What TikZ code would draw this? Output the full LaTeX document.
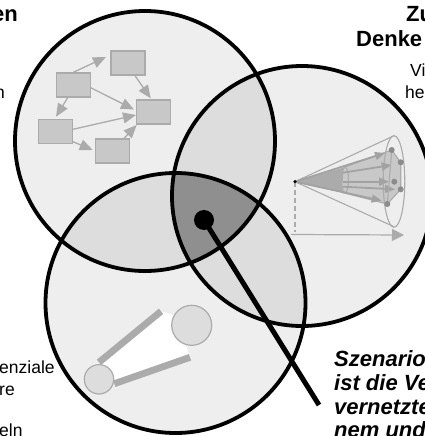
\documentclass[tikz,border=0pt]{standalone}
\usepackage{fontspec}
\setmainfont{Liberation Sans}
\usetikzlibrary{arrows.meta}
\definecolor{lightc}{HTML}{EEEEEE}
\definecolor{midc}{HTML}{DDDDDD}
\definecolor{darkc}{HTML}{8F8F8F}
\definecolor{boxc}{HTML}{C8C8C8}
\definecolor{grayc}{HTML}{ABABAB}
\definecolor{conec}{HTML}{A2A2A2}
\tikzset{
  ring/.style={circle,draw=black,line width=3.8pt,minimum size=260pt,inner sep=0pt},
  netbox/.style={draw=grayc,fill=boxc,line width=1.3pt,minimum width=34pt,minimum height=24pt,inner sep=0pt},
  netarr/.style={draw=grayc,line width=1.3pt,-{Triangle[length=13pt,width=11pt]}},
  thin cone/.style={draw=grayc,line width=1.1pt},
  conearr/.style={draw=conec,line width=1.8pt,-{Triangle[length=10pt,width=8pt]}},
  bar/.style={draw=grayc,line width=6.8pt},
  disc/.style={circle,draw=grayc,fill=midc,line width=1.2pt,inner sep=0pt},
  vertex/.style={circle,fill=gray!90,inner sep=0pt,minimum size=6pt},
  head/.style={font=\bfseries\fontsize{22}{25}\selectfont,anchor=base west,inner sep=0pt},
  body/.style={font=\fontsize{17.5}{20}\selectfont,anchor=base west,inner sep=0pt},
  lead/.style={font=\bfseries\itshape\fontsize{22}{25}\selectfont,anchor=base west,inner sep=0pt}
}
\begin{document}
\begin{tikzpicture}[x=1pt,y=-1pt]
\useasboundingbox (0,0) rectangle (424,436);
% set regions
\fill[lightc] (145,141) circle (130);
\fill[lightc] (302,196) circle (130);
\fill[lightc] (175.5,303) circle (130);
\begin{scope}
  \clip (145,141) circle (130);
  \fill[midc] (302,196) circle (130);
  \fill[midc] (175.5,303) circle (130);
\end{scope}
\begin{scope}
  \clip (302,196) circle (130);
  \fill[midc] (175.5,303) circle (130);
\end{scope}
\begin{scope}
  \clip (145,141) circle (130);
  \clip (302,196) circle (130);
  \fill[darkc] (175.5,303) circle (130);
\end{scope}
\node[ring] (rA) at (145,141) {};
\node[ring] (rB) at (302,196) {};
\node[ring] (rC) at (175.5,303) {};
% network
\node[netbox] (b1) at (128,63) {};
\node[netbox] (b2) at (73.3,85) {};
\node[netbox] (b3) at (153.6,112) {};
\node[netbox] (b4) at (55.6,131.3) {};
\node[netbox] (b5) at (112.3,151) {};
\coordinate (e1) at (106,57);
\coordinate (e2) at (150.7,98.3);
\coordinate (e3) at (134,109.5);
\coordinate (e4) at (56,116.7);
\coordinate (e5) at (136,115);
\coordinate (e6) at (92.7,150);
\coordinate (e7) at (136.7,125);
\draw[netarr] (b2.north) -- (e1);
\draw[netarr] (135,75.7) -- (e2);
\draw[netarr] (90.7,87.7) -- (e3);
\draw[netarr] (67.7,97.7) -- (e4);
\draw[netarr] (73,129.3) -- (e5);
\draw[netarr] (73,141.7) -- (e6);
\draw[netarr] (124,138.3) -- (e7);
% cone
\coordinate (apex) at (295,181.7);
\coordinate (pa) at (391.7,150);
\coordinate (pb) at (400.7,162.3);
\coordinate (pc) at (400.7,189.3);
\coordinate (pd) at (387.3,204);
\coordinate (sa) at (344,167.3);
\coordinate (sb) at (341.7,192.3);
\fill[boxc] (sa) -- (pa) -- (pb) -- (pc) -- (pd) -- (sb) -- cycle;
\draw[thin cone] (sa) -- (pa) -- (pb) -- (pc) -- (pd) -- (sb);
\fill[grayc] (apex) -- (sa) -- (sb) -- cycle;
\draw[thin cone] (345,180) ellipse (3.5 and 12.8);
\draw[thin cone] (394,181.5) ellipse (10.8 and 45.8);
\draw[thin cone] (apex) -- (394,135.7);
\draw[thin cone] (apex) -- (394,226.7);
\draw[conearr] (apex) -- (385,153);
\draw[conearr] (343,172.7) -- (391.7,165);
\draw[conearr] (343,181.7) -- (389,181.7);
\draw[conearr] (343,186.7) -- (395,189.3);
\draw[conearr] (apex) -- (381.7,200.7);
\draw[grayc,line width=1.1pt] (pa) -- (pd);
\foreach \p in {pa,pb,pc,pd} \node[vertex] at (\p) {};
\node[vertex] at (394.3,181.7) {};
\draw[grayc,line width=1.2pt,dash pattern=on 5pt off 3pt] (apex) -- (295,231.7);
\draw[grayc,line width=1.2pt,-{Triangle[length=12pt,width=12pt]}] (291,234.5) -- (404,235);
\node[circle,fill=black,inner sep=0pt,minimum size=3.5pt] at (apex) {};
% levers
\fill[white] (99,362.3) -- (161,311.3) -- (176,316) -- (190,357.3) -- (114.3,383.7) -- cycle;
\draw[bar] (99,362.3) -- (161,311.3);
\draw[bar] (114.3,383.7) -- (190,357.3);
\node[disc,minimum size=40pt] (big) at (191.7,325.3) {};
\node[disc,minimum size=29.4pt] (small) at (99,379.3) {};
% pointer
\node[circle,fill=black,inner sep=0pt,minimum size=20pt] (dot) at (204,220) {};
\coordinate (tip) at (319,405);
\draw[black,line width=5pt] (dot.center) -- (tip);
% texts
\node[head] at (-8,21.5) {en};
\node[body] at (-5,98.5) {n};
\node[body] at (-1,373.5) {enziale};
\node[body] at (-1,395.5) {re};
\node[body] at (-1,436) {eln};
\node[head] at (406,21.5) {Zu};
\node[head] at (356,46.5) {Denke};
\node[body] at (410,77) {Vi};
\node[body] at (405,98.5) {he};
\node[lead] at (334,366) {Szenario};
\node[lead] at (334,390) {ist die Ve};
\node[lead] at (334,414) {vernetzte};
\node[lead] at (334,437) {nem und};
\end{tikzpicture}
\end{document}
